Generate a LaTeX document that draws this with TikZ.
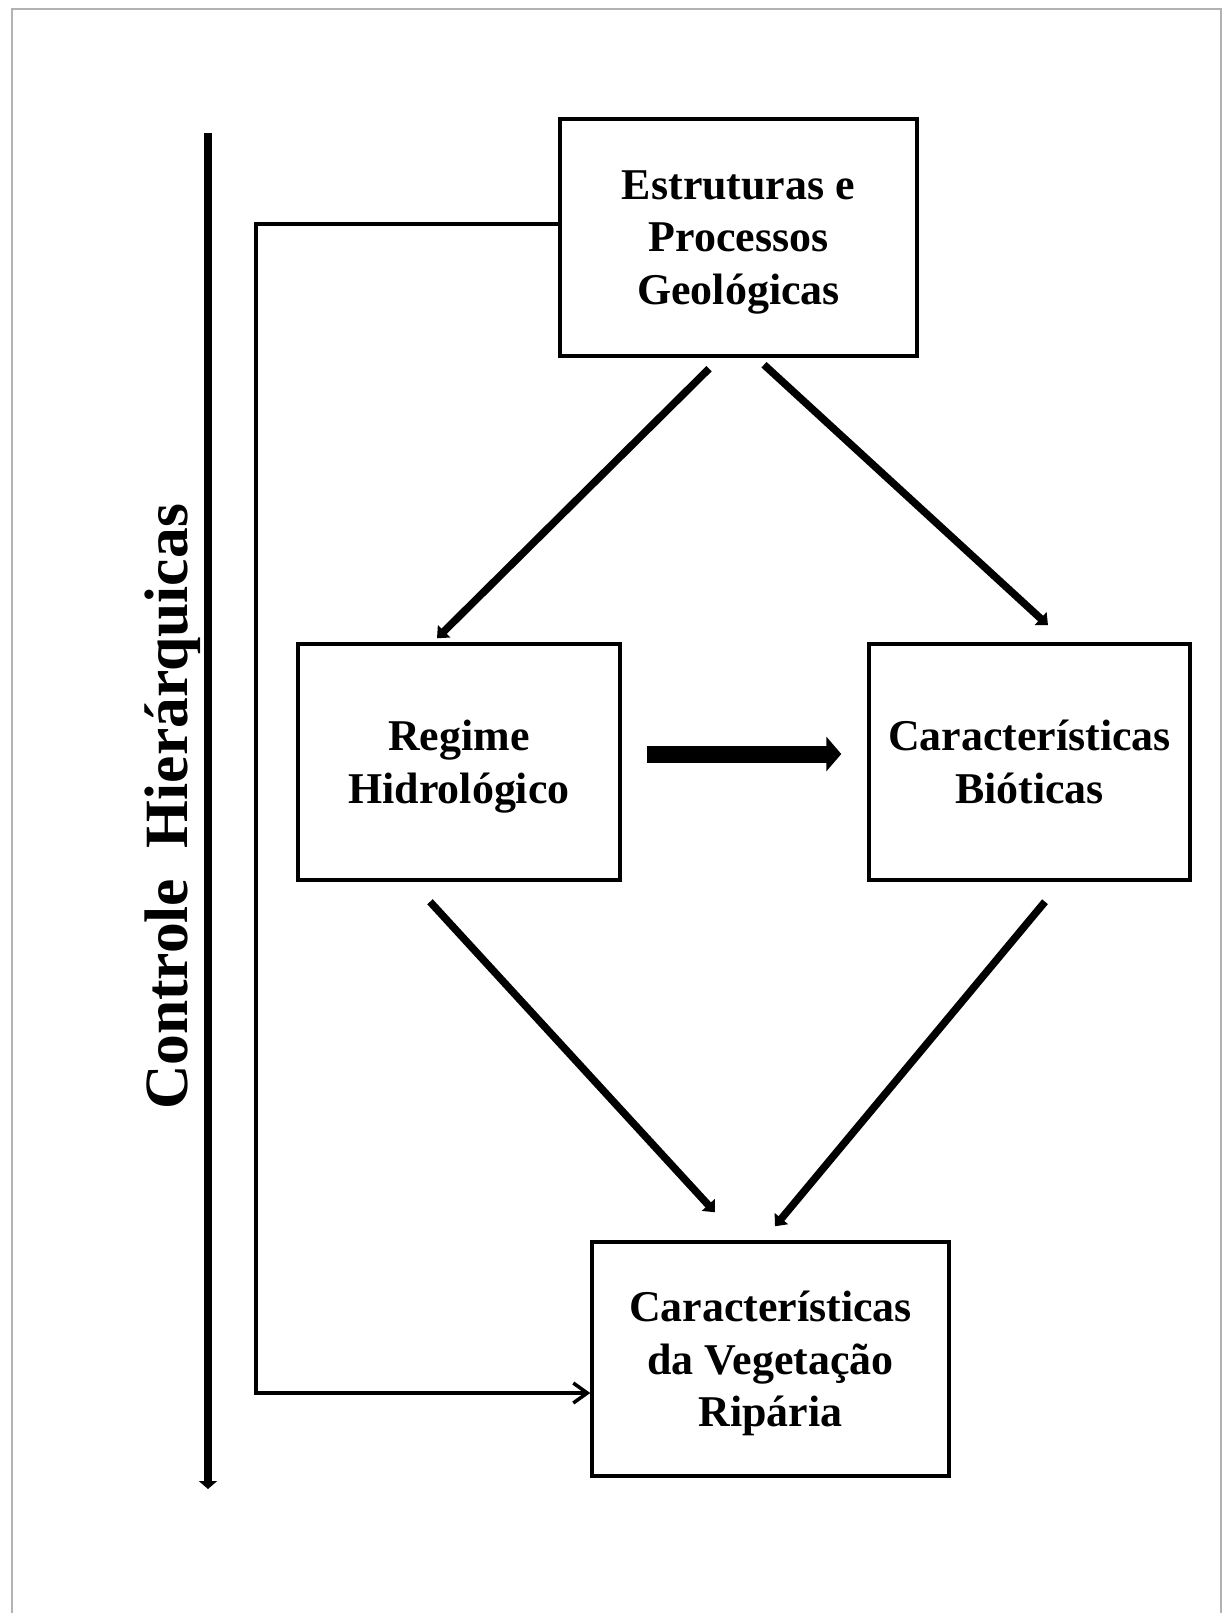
\documentclass[tikz,border=0pt]{standalone}
\usepackage{fontspec}
\setmainfont{Liberation Serif}
\usetikzlibrary{arrows.meta,calc}
\tikzset{
  hierfig/.style={x=0.02cm,y=-0.02cm,
    every node/.style={font=\bfseries\fontsize{25}{30}\selectfont,align=center}},
  levelbox/.style={draw,line width=0.07cm,inner sep=0pt,text depth=-2.6pt},
  influence/.style={line width=0.15cm,-{Triangle[length=0.2cm,width=0.34cm]}},
  strongflow/.style={line width=0.34cm,-{Triangle[length=0.3cm,width=0.68cm]}},
  feedback/.style={line width=0.07cm,-{Straight Barb[length=0.28cm,width=0.4cm]}},
  controlaxis/.style={line width=0.15cm,-{Triangle[length=0.16cm,width=0.36cm]}},
  pageframe/.style={draw=black!30,line width=0.05cm},
}

\begin{document}
\begin{tikzpicture}[hierfig]
    \useasboundingbox (0,0) rectangle (1225,1613);
    \draw[pageframe] (12,1613) -- (12,9) -- (1221,9) -- (1221,1613);

    \node[levelbox,minimum width=7.14cm,minimum height=4.74cm] (geo)
      at (738.5,237.5) {Estruturas e\\Processos\\Geológicas};
    \node[levelbox,minimum width=6.44cm,minimum height=4.72cm] (hyd)
      at (459,762) {Regime\\Hidrológico};
    \node[levelbox,minimum width=6.42cm,minimum height=4.72cm] (bio)
      at (1029.5,762) {Características\\Bióticas};
    \node[levelbox,minimum width=7.14cm,minimum height=4.68cm] (veg)
      at (770.5,1359) {Características\\da Vegetação\\Ripária};

    \draw[influence] ($(geo.south)+(-29.5,11)$) -- ($(hyd.north)+(-22,-4)$);
    \draw[influence] ($(geo.south)+(25.5,7)$) -- ($(bio.north)+(18.5,-17)$);
    \draw[influence] ($(hyd.south)+(-29,20)$) -- ($(veg.north)+(-55.5,-28)$);
    \draw[influence] ($(bio.south)+(15.5,20)$) -- ($(veg.north)+(4.5,-14)$);
    \draw[strongflow] ($(hyd.east)+(25,-8)$) -- ($(bio.west)+(-26,-8)$);

    \coordinate (fbk) at (256,1393);
    \draw[feedback] ($(geo.west)+(0,-13.5)$) -| (fbk) -- (fbk -| veg.west);

    \coordinate (ctop) at (208,133);
    \coordinate (cbot) at (208,1489);
    \draw[controlaxis] (ctop) -- (cbot);
    \node[rotate=90,font=\bfseries\fontsize{35}{42}\selectfont] (axislabel)
      at (173,807) {Controle\ \ Hierárquicas};
\end{tikzpicture}
\end{document}
